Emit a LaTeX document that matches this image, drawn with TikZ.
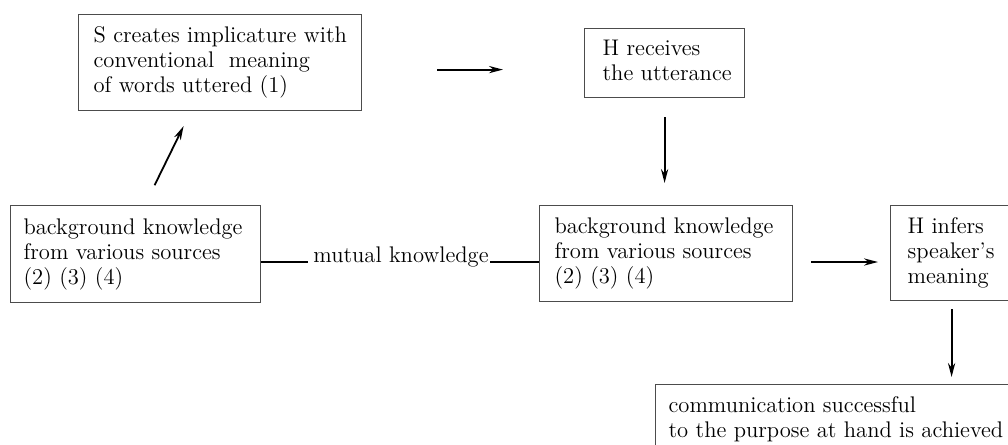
\documentclass[tikz,border=0pt]{standalone}
\usetikzlibrary{arrows.meta,calc}
\newcommand{\bxtext}[2]{\makebox[#1][l]{\begin{tabular}{@{}l@{}}#2\end{tabular}}}
\begin{document}
\begin{tikzpicture}[x=0.5pt,y=-0.5pt,
  txtfont/.style={font=\fontsize{11.3}{12.5}\selectfont},
  box/.style={draw=black!70, line width=0.6pt, inner ysep=0pt, anchor=north west, txtfont},
  arr/.style={draw=black, line width=0.9pt, -{Stealth[length=7pt,width=3.6pt]}},
  conn/.style={draw=black, line width=0.9pt}]
\path[use as bounding box] (0,0) rectangle (1008,445);
\clip (0,0) rectangle (1008,445);
\node[box, inner xsep=7.5pt, minimum height=48pt] (b1) at (78,14)
  {\bxtext{126.5pt}{S creates implicature with\\conventional\ \ meaning\\of words uttered (1)}};
\node[box, inner xsep=9pt, minimum height=34.5pt] (b2) at (584,28)
  {\bxtext{62pt}{H receives\\the utterance}};
\node[box, inner xsep=6.5pt, minimum height=48.5pt] (b3) at (10,205)
  {\bxtext{112pt}{background knowledge\\from various sources\\(2) (3) (4)}};
\node[box, inner xsep=7.5pt, minimum height=48pt] (b4) at (539,205)
  {\bxtext{111.5pt}{background knowledge\\from various sources\\(2) (3) (4)}};
\node[box, inner xsep=8.5pt, minimum height=47.5pt] (b5) at (890,205)
  {\bxtext{45.5pt}{H infers\\speaker's\\meaning}};
\node[box, inner xsep=6.5pt, minimum height=35.5pt] (b6) at (655,384)
  {\bxtext{169.5pt}{communication successful\\to the purpose at hand is achieved}};
\node[txtfont, inner sep=0pt, anchor=base west] (m) at (313,262) {mutual knowledge};
% connectors
\draw[conn] (b3.east |- m.base) -- ([xshift=-2.5pt]m.base west);
\draw[conn] ([xshift=0.5pt]m.base east) -- (b4.west |- m.base);
\draw[arr, shorten <=37.5pt, shorten >=40.5pt] ($(b1.east)+(0,7)$) -- ($(b2.west |- b1.east)+(0,7)$);
\draw[arr, shorten <=11pt, shorten >=8.3pt] ([xshift=4.65pt]b3.north) -- ([xshift=-14.6pt]b1.south);
\draw[arr, shorten <=9.5pt, shorten >=11pt] (b2.south) -- (b2.south |- b4.north);
\draw[arr, shorten <=9pt, shorten >=6pt] (b4.east |- m.base) -- (b5.west |- m.base);
\draw[arr, shorten <=4pt, shorten >=3.5pt] ([xshift=-0.75pt]b5.south) -- ([xshift=-0.75pt]b5.south |- b6.north);
\end{tikzpicture}
\end{document}
